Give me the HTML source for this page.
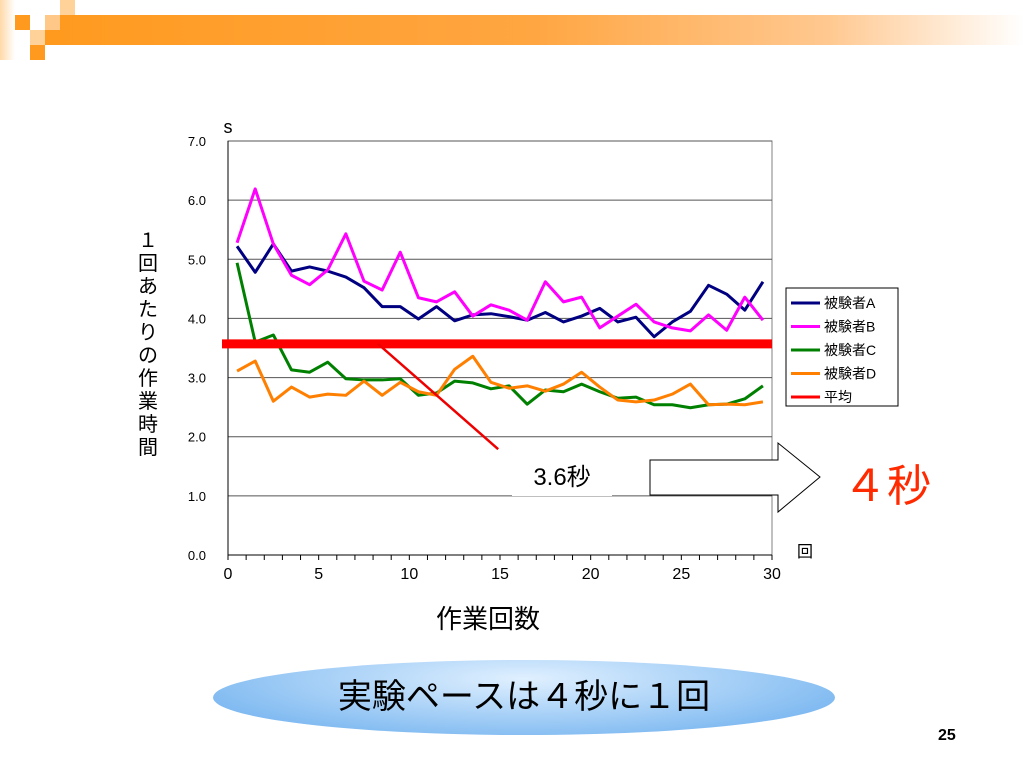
<!DOCTYPE html>
<html><head><meta charset="utf-8"><style>
body{margin:0;width:1024px;height:768px;background:#fff;font-family:"Liberation Sans","Noto Sans CJK JP",sans-serif;position:relative;overflow:hidden}
.a{position:absolute}
</style></head><body>
<div class="a" style="left:45px;top:15px;width:979px;height:30px;background:linear-gradient(90deg,#ff9a1e,#ffa642 50%,#ffc890 80%,#fff 100%)"></div>
<div class="a" style="left:0;top:0;width:15px;height:60px;background:linear-gradient(90deg,#ffd9a8,#fff)"></div>
<div class="a" style="left:15px;top:15px;width:15px;height:15px;background:#ff9a1e"></div>
<div class="a" style="left:30px;top:30px;width:15px;height:15px;background:#ffd29a"></div>
<div class="a" style="left:30px;top:45px;width:15px;height:15px;background:#ff9a1e"></div>
<div class="a" style="left:60px;top:0;width:15px;height:15px;background:#ffd29a"></div>
<div class="a" style="left:45px;top:15px;width:15px;height:15px;background:#ffc888"></div>
<svg class="a" style="left:0;top:0" width="1024" height="768" id="chart"></svg>
<div class="a" style="left:136px;top:230px;width:24px;font-size:20px;line-height:23px;text-align:center">１回あたりの作業時間</div>
<div class="a" style="left:436px;top:599px;font-size:26px">作業回数</div>
<div class="a" style="left:512px;top:460px;width:100px;height:36px;background:#fff;font-size:24px;text-align:center;line-height:36px">3.6秒</div>
<div class="a" style="left:843px;top:450px;font-size:44px;color:#ff2a00">４秒</div>
<div class="a" style="left:213px;top:660px;width:622px;height:75px;border-radius:50%;background:radial-gradient(ellipse at 50% 25%,#e0f0ff,#6aaeee 95%);text-align:center;line-height:75px;font-size:34px">実験ペースは４秒に１回</div>
<div class="a" style="left:938px;top:727px;font-size:16px;font-weight:bold">25</div>
<script>
const xTicks=[0,5,10,15,20,25,30];
const yTicks=["0.0","1.0","2.0","3.0","4.0","5.0","6.0","7.0"];
const seriesNames=["被験者A","被験者B","被験者C","被験者D","平均"];
const colors=["#000080","#ff00ff","#008000","#ff7f00","#ff0000"];
const serA=[5.22,4.78,5.26,4.8,4.87,4.8,4.7,4.52,4.2,4.2,3.99,4.2,3.96,4.06,4.08,4.03,3.97,4.1,3.94,4.04,4.17,3.94,4.02,3.69,3.94,4.12,4.56,4.41,4.14,4.62];
const serB=[5.28,6.19,5.26,4.73,4.57,4.82,5.43,4.63,4.48,5.12,4.35,4.28,4.45,4.04,4.23,4.14,3.97,4.62,4.28,4.36,3.84,4.04,4.24,3.94,3.84,3.79,4.06,3.8,4.36,3.97];
const serC=[4.94,3.6,3.72,3.13,3.09,3.26,2.98,2.96,2.96,2.98,2.7,2.74,2.94,2.91,2.81,2.86,2.55,2.79,2.76,2.89,2.76,2.65,2.67,2.54,2.54,2.49,2.54,2.55,2.64,2.86];
const serD=[3.11,3.28,2.6,2.84,2.67,2.72,2.7,2.94,2.7,2.92,2.76,2.7,3.14,3.36,2.92,2.82,2.86,2.77,2.89,3.09,2.84,2.62,2.59,2.62,2.72,2.89,2.54,2.55,2.54,2.59];
const avgValue=3.57;
const trendX=[8.27,14.9];
const trendY=[3.57,1.79];
const svg=document.getElementById('chart');
const X0=228,X1=772,Y0=555,Y1=141;
const sx=v=>X0+(X1-X0)*v/30, sy=v=>Y0-(Y0-Y1)*v/7;
function mk(t,a,parent){const e=document.createElementNS('http://www.w3.org/2000/svg',t);for(const k in a)e.setAttribute(k,a[k]);(parent||svg).appendChild(e);return e;}
let e;
e=mk('rect',{x:X0,y:Y1,width:X1-X0,height:Y0-Y1,fill:'#fff',stroke:'#808080'});


yTicks.forEach((t,i)=>{const y=sy(+t);
 e=mk('line',{x1:X0,x2:X1,y1:y,y2:y,stroke:i==0?'#000':'#555','stroke-width':1});
 
 
 e=mk('text',{x:X0-22,y:y+5,'font-size':13,'text-anchor':'end'});e.textContent=t;
 
 
});
mk('line',{x1:X0,x2:X0,y1:Y1,y2:Y0,stroke:'#000'});
for(let i=0;i<=30;i++){mk('line',{x1:sx(i),x2:sx(i),y1:Y0,y2:Y0+5,stroke:'#000'});}
xTicks.forEach(t=>{e=mk('text',{x:sx(t),y:Y0+24,'font-size':16,'text-anchor':'middle'});e.textContent=t;
 
 });
e=mk('text',{x:228,y:133,'font-size':18,'text-anchor':'middle'});e.textContent='s';


e=mk('text',{x:797,y:557,'font-size':16,'font-family':'Noto Sans CJK JP'});e.textContent='回';


[serA,serB,serC,serD].forEach((s,k)=>{
 e=mk('polyline',{points:s.map((v,i)=>sx(i+0.5)+','+sy(v)).join(' '),fill:'none',stroke:colors[k],'stroke-width':3,'stroke-linejoin':'round'});
 
 
});
e=mk('line',{x1:X0-6,x2:X1,y1:sy(avgValue),y2:sy(avgValue),stroke:'#ff0000','stroke-width':9});


e=mk('line',{x1:sx(trendX[0]),x2:sx(trendX[1]),y1:sy(trendY[0]),y2:sy(trendY[1]),stroke:'#ee0000','stroke-width':2.5});


e=mk('polygon',{points:'650,460 778,460 778,443 820,477 778,512 778,495 650,495',fill:'#fff',stroke:'#000','stroke-width':1});


e=mk('rect',{x:786,y:288,width:112,height:118,fill:'#fff',stroke:'#000'});


seriesNames.forEach((n,k)=>{const y=303+k*23.5;
 e=mk('line',{x1:791,x2:820,y1:y,y2:y,stroke:colors[k],'stroke-width':3});
 
 
 e=mk('text',{x:824,y:y+5,'font-size':14});e.textContent=n;
 
 
});
</script>
</body></html>
